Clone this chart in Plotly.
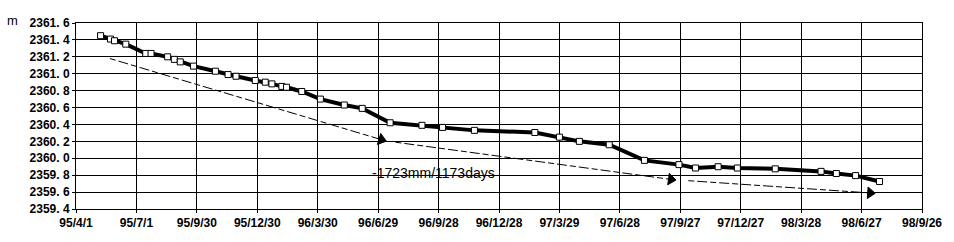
import plotly.graph_objects as go
from datetime import date, timedelta

# ---- data ----
obs_dates = ["1995-05-08", "1995-05-23", "1995-05-29", "1995-06-15", "1995-07-15",
             "1995-07-23", "1995-08-17", "1995-08-27", "1995-09-05", "1995-09-25",
             "1995-10-28", "1995-11-16", "1995-11-28", "1995-12-27", "1996-01-11",
             "1996-01-21", "1996-02-05", "1996-02-12", "1996-03-06", "1996-04-03",
             "1996-05-09", "1996-06-05", "1996-07-17", "1996-09-03", "1996-10-04",
             "1996-11-21", "1997-02-20", "1997-03-29", "1997-04-28", "1997-06-12",
             "1997-08-04", "1997-09-25", "1997-10-20", "1997-11-23", "1997-12-22",
             "1998-02-17", "1998-04-27", "1998-05-20", "1998-06-18", "1998-07-24"]
obs_elev = [2361.45, 2361.41, 2361.39, 2361.35, 2361.24,
            2361.24, 2361.20, 2361.17, 2361.14, 2361.09,
            2361.03, 2360.99, 2360.97, 2360.92, 2360.90,
            2360.88, 2360.85, 2360.84, 2360.79, 2360.70,
            2360.63, 2360.59, 2360.42, 2360.39, 2360.365,
            2360.33, 2360.305, 2360.25, 2360.20, 2360.16,
            2359.975, 2359.925, 2359.885, 2359.90, 2359.885,
            2359.875, 2359.845, 2359.82, 2359.795, 2359.725]

trend1_dates = ["1995-05-22", "1996-07-04"]
trend1_elev = [2361.18, 2360.22]
trend2_dates = ["1996-07-25", "1997-09-13"]
trend2_elev = [2360.19, 2359.75]
trend3_dates = ["1997-10-09", "1998-07-10"]
trend3_elev = [2359.735, 2359.59]

label_text = "-1723mm/1173days"
label_date = "1996-09-20"
label_elev = 2359.83

y_ticks = [2359.4, 2359.6, 2359.8, 2360.0, 2360.2, 2360.4, 2360.6, 2360.8,
           2361.0, 2361.2, 2361.4, 2361.6]
y_ticktext = ["2359. 4", "2359. 6", "2359. 8", "2360. 0", "2360. 2", "2360. 4",
              "2360. 6", "2360. 8", "2361. 0", "2361. 2", "2361. 4", "2361. 6"]

x_start = date(1995, 4, 1)
x_ticks = [(x_start + timedelta(days=91 * i)).isoformat() for i in range(15)]
x_ticktext = ["95/4/1", "95/7/1", "95/9/30", "95/12/30", "96/3/30", "96/6/29",
              "96/9/28", "96/12/28", "97/3/29", "97/6/28", "97/9/27", "97/12/27",
              "98/3/28", "98/6/27", "98/9/26"]

# ---- figure ----
fig = go.Figure()

for td, te in [(trend1_dates, trend1_elev), (trend2_dates, trend2_elev),
               (trend3_dates, trend3_elev)]:
    fig.add_trace(go.Scatter(
        x=td, y=te, mode="lines",
        line=dict(color="black", width=1, dash="6px,3px,10px,3px"),
        hoverinfo="skip", showlegend=False))
    fig.add_trace(go.Scatter(
        x=td, y=te, mode="markers",
        marker=dict(symbol="triangle-up", size=[0, 10], color="black", opacity=1,
                    angleref="previous", line=dict(width=1, color="black")),
        hoverinfo="skip", showlegend=False))

fig.add_trace(go.Scatter(
    x=obs_dates, y=obs_elev, mode="lines+markers",
    line=dict(color="black", width=4),
    marker=dict(symbol="square", size=6, color="white",
                line=dict(color="black", width=1)),
    showlegend=False))

fig.add_annotation(x=label_date, y=label_elev, text=label_text, showarrow=False,
                   font=dict(family="Liberation Sans", size=14, color="black"),
                   xanchor="center", yanchor="middle")

fig.add_annotation(xref="paper", yref="paper", x=-0.0745, y=1.015, text="m",
                   showarrow=False, font=dict(family="Liberation Sans", size=13, color="black"),
                   xanchor="center", yanchor="middle")

tick_font = dict(family="Liberation Sans", size=12, color="black", weight="bold")

fig.update_xaxes(
    type="date", range=[x_ticks[0], x_ticks[-1]],
    tickmode="array", tickvals=x_ticks, ticktext=x_ticktext,
    showgrid=True, gridcolor="black", gridwidth=1,
    showline=True, linecolor="black", linewidth=1, mirror=True,
    ticks="outside", ticklen=3, tickcolor="black",
    tickfont=tick_font, zeroline=False)
fig.update_yaxes(
    range=[2359.4, 2361.6],
    tickmode="array", tickvals=y_ticks, ticktext=y_ticktext,
    showgrid=True, gridcolor="black", gridwidth=1,
    showline=True, linecolor="black", linewidth=1, mirror=True,
    ticks="outside", ticklen=3, tickcolor="black",
    tickfont=tick_font, zeroline=False)

fig.update_layout(
    width=954, height=242,
    margin=dict(l=76, r=32, t=23, b=30),
    plot_bgcolor="white", paper_bgcolor="white",
    hovermode=False)

fig.write_html("out.html")
